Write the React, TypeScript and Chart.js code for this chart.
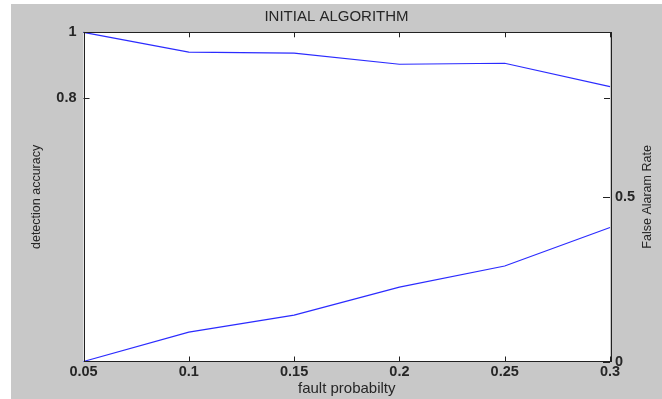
import { useEffect, useRef } from "react";
import { Chart, registerables } from "chart.js";

Chart.register(...registerables);

const faultProbability = [0.05, 0.1, 0.15, 0.2, 0.25, 0.3];
const detectionAccuracy = [1.0, 0.94, 0.937, 0.903, 0.906, 0.835];
const falseAlarmRate = [0, 0.089, 0.141, 0.226, 0.29, 0.407];

const xTickValues = [0.05, 0.1, 0.15, 0.2, 0.25, 0.3];
const xTickLabels = ["0.05", "0.1", "0.15", "0.2", "0.25", "0.3"];
const leftTickValues = [0.8, 1];
const leftTickLabels = ["0.8", "1"];
const rightTickValues = [0, 0.5];
const rightTickLabels = ["0", "0.5"];

const FONT = "Arial, 'Liberation Sans', sans-serif";
const TEXT = "#262626";

const framePlugin = {
  id: "matlabFrame",
  beforeDatasetsDraw(chart: any) {
    const { ctx, chartArea } = chart;
    ctx.save();
    ctx.fillStyle = "#ffffff";
    ctx.fillRect(chartArea.left, chartArea.top, chartArea.right - chartArea.left, chartArea.bottom - chartArea.top);
    ctx.restore();
  },
  afterDatasetsDraw(chart: any) {
    const { ctx, chartArea, scales } = chart;
    const { left, right, top, bottom } = chartArea;
    ctx.save();
    ctx.strokeStyle = "#222";
    ctx.lineWidth = 1;
    ctx.beginPath();
    xTickValues.forEach((v) => {
      const px = Math.round(scales.x.getPixelForValue(v)) + 0.5;
      ctx.moveTo(px, bottom);
      ctx.lineTo(px, bottom - 5);
      ctx.moveTo(px, top);
      ctx.lineTo(px, top + 5);
    });
    leftTickValues.forEach((v) => {
      const py = Math.round(scales.yL.getPixelForValue(v)) + 0.5;
      ctx.moveTo(left, py);
      ctx.lineTo(left + 6, py);
      ctx.moveTo(right, py);
      ctx.lineTo(right - 6, py);
    });
    rightTickValues.forEach((v) => {
      const py = Math.round(scales.yR.getPixelForValue(v)) + 0.5;
      ctx.moveTo(right, py);
      ctx.lineTo(right - 7, py);
    });
    ctx.stroke();
    ctx.strokeRect(Math.round(left) + 0.5, Math.round(top) + 0.5, Math.round(right - left), Math.round(bottom - top));
    ctx.restore();
  },
  afterDraw(chart: any) {
    const { ctx, chartArea } = chart;
    ctx.save();
    ctx.fillStyle = TEXT;
    ctx.font = `12.5px ${FONT}`;
    ctx.textAlign = "center";
    ctx.textBaseline = "middle";
    ctx.translate(637, (chartArea.top + chartArea.bottom) / 2);
    ctx.rotate(-Math.PI / 2);
    ctx.fillText("False Alaram Rate", 0, 0);
    ctx.restore();
  },
};

export default function App() {
  const canvasRef = useRef<HTMLCanvasElement | null>(null);

  useEffect(() => {
    if (!canvasRef.current) return;
    const tickFont = { family: FONT, size: 14.5, weight: "bold" as any };
    const chart = new Chart(canvasRef.current, {
      type: "line",
      data: {
        datasets: [
          {
            label: "detection accuracy",
            data: faultProbability.map((x, i) => ({ x, y: detectionAccuracy[i] })),
            borderColor: "rgba(20,20,255,0.9)",
            borderWidth: 1.2,
            pointRadius: 0,
            yAxisID: "yL",
            clip: false as any,
          },
          {
            label: "False Alaram Rate",
            data: faultProbability.map((x, i) => ({ x, y: falseAlarmRate[i] })),
            borderColor: "rgba(20,20,255,0.9)",
            borderWidth: 1.2,
            pointRadius: 0,
            yAxisID: "yR",
            clip: false as any,
          },
        ],
      },
      options: {
        animation: false,
        responsive: false,
        devicePixelRatio: 1,
        layout: { padding: 0 },
        plugins: {
          legend: { display: false },
          tooltip: { enabled: false },
          title: {
            display: true,
            text: "INITIAL ALGORITHM",
            color: TEXT,
            font: { family: FONT, size: 15, weight: "normal" as any, lineHeight: 1.2 },
            padding: { top: 3.5, bottom: 6.8 },
          },
        },
        scales: {
          x: {
            type: "linear",
            min: 0.05,
            max: 0.3,
            grid: { display: false, drawTicks: false },
            border: { display: false },
            afterBuildTicks: (axis: any) => {
              axis.ticks = xTickValues.map((value) => ({ value }));
            },
            afterFit: (axis: any) => {
              axis.height = 37.5;
            },
            ticks: {
              autoSkip: false,
              maxRotation: 0,
              minRotation: 0,
              padding: 2,
              color: TEXT,
              font: tickFont,
              callback: (_v: any, i: number) => xTickLabels[i],
            },
            title: {
              display: true,
              text: "fault probabilty",
              color: TEXT,
              font: { family: FONT, size: 15, lineHeight: 1.2 },
              padding: { top: 0, bottom: 1 },
            },
          },
          yL: {
            type: "linear",
            position: "left",
            min: 0,
            max: 1,
            grid: { display: false, drawTicks: false },
            border: { display: false },
            afterBuildTicks: (axis: any) => {
              axis.ticks = leftTickValues.map((value) => ({ value }));
            },
            afterFit: (axis: any) => {
              axis.width = 72.5;
            },
            ticks: {
              padding: 7,
              color: TEXT,
              font: tickFont,
              callback: (_v: any, i: number) => leftTickLabels[i],
            },
            title: {
              display: true,
              text: "detection accuracy",
              color: TEXT,
              font: { family: FONT, size: 12.5, lineHeight: 1.2 },
              padding: { top: 18.5, bottom: 0 },
            },
          },
          yR: {
            type: "linear",
            position: "right",
            min: 0,
            max: 1,
            grid: { display: false, drawTicks: false },
            border: { display: false },
            afterBuildTicks: (axis: any) => {
              axis.ticks = rightTickValues.map((value) => ({ value }));
            },
            afterFit: (axis: any) => {
              axis.width = 52;
            },
            ticks: {
              padding: 5,
              color: TEXT,
              font: tickFont,
              callback: (_v: any, i: number) => rightTickLabels[i],
            },
          },
        },
      } as any,
      plugins: [framePlugin],
    });
    return () => chart.destroy();
  }, []);

  return (
    <div style={{ position: "fixed", left: 0, top: 0, width: 662, height: 399, background: "#ffffff" }}>
      <div style={{ position: "absolute", left: 11, top: 4, width: 651, height: 395, background: "#c8c8c8" }}>
        <canvas ref={canvasRef} width={651} height={395} style={{ display: "block", width: 651, height: 395 }} />
      </div>
    </div>
  );
}
